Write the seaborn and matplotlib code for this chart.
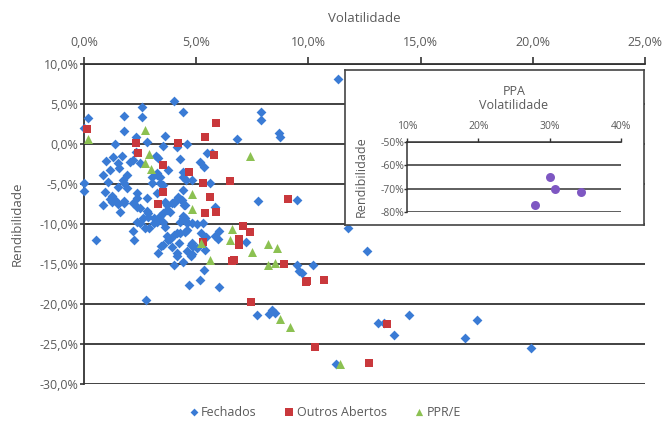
import matplotlib.pyplot as plt
import pandas as pd
import seaborn as sns
from matplotlib.ticker import FuncFormatter, MultipleLocator

# Volatilidade / Rendibilidade (%)
fechados_vol = [
    11.3, 4.0, 2.6, 0.2, 1.8, 2.6, 4.4, 7.9, 7.9, 0.0, 1.8, 8.7, 8.75, 3.6, 2.3, 6.8,
    1.4, 2.8, 4.6, 3.5, 4.15, 2.3, 1.0, 1.3, 1.7, 1.5, 2.05, 2.2, 2.5, 3.2, 3.3, 4.3,
    5.15, 5.35, 5.5, 5.7, 0.85, 1.15, 1.55, 1.05, 1.8, 1.9, 1.5, 3.05, 3.25, 3.75, 3.05,
    3.4, 4.4, 4.55, 4.8, 5.6, 0.0, 0.0, 0.95, 1.25, 1.4, 1.8, 2.35, 2.35, 2.8, 3.25,
    3.6, 4.0, 4.2, 4.4, 4.35, 4.5, 5.85, 0.85, 1.6, 2.5, 2.85, 3.5, 7.75, 9.5, 4.5,
    1.25, 1.5, 2.2, 2.35, 2.35, 2.5, 2.65, 2.8, 2.85, 3.1, 3.1, 3.4, 3.5, 3.6, 3.7,
    3.9, 3.85, 4.4, 4.5, 4.6, 4.3, 4.4, 4.45, 4.3, 4.5, 3.7, 3.85, 4.0, 5.05, 5.3,
    5.95, 6.0, 5.85, 7.2, 5.4, 5.35, 6.0, 11.75, 12.6, 9.5, 9.6, 9.7, 10.2, 7.7, 8.25,
    8.4, 8.5, 11.25, 13.1, 13.35, 14.5, 13.8, 17.5, 17.0, 19.9, 0.55, 2.75, 4.7, 5.15,
    4.0, 4.4, 3.3, 4.8, 4.15, 3.45, 3.9, 4.25, 4.8, 2.25, 2.2, 5.2, 5.45, 3.25, 3.7,
    3.75, 4.15, 4.6, 3.5, 4.75, 1.75, 1.9, 3.4, 3.5, 4.4, 3.25, 1.15, 1.8, 2.7, 2.9,
    4.8, 4.85, 5.05, 4.6, 4.15, 4.75, 4.05, 4.3,
]
fechados_rend = [
    8.1, 5.4, 4.6, 3.3, 3.5, 3.4, 4.0, 4.0, 3.0, 2.0, 1.6, 1.4, 0.9, 1.0, 0.9, 0.6,
    0.0, 0.25, 0.0, -0.25, -0.4, -1.0, -2.1, -1.6, -1.5, -2.4, -2.25, -2.0, -2.4, -1.5,
    -1.75, -1.9, -2.25, -2.9, -1.1, -1.1, -3.9, -3.25, -3.0, -4.75, -4.9, -5.5, -5.4,
    -4.1, -3.9, -3.25, -4.9, -4.9, -4.1, -4.5, -4.5, -4.9, -4.9, -5.9, -6.0, -6.5, -7.0,
    -7.4, -6.1, -6.75, -6.75, -6.1, -7.25, -7.4, -6.6, -5.75, -7.0, -7.6, -7.9, -7.6,
    -8.5, -8.0, -8.6, -8.6, -7.1, -7.0, -9.25, -7.25, -7.5, -7.4, -7.9, -9.75, -9.9,
    -9.25, -8.4, -9.1, -9.25, -9.9, -9.0, -9.75, -10.4, -7.6, -7.4, -8.5, -9.0, -9.5,
    -9.9, -9.75, -9.25, -7.6, -11.1, -11.0, -11.5, -11.9, -11.4, -10.0, -9.9, -11.9,
    -10.9, -11.5, -12.25, -13.25, -15.75, -17.9, -10.5, -13.4, -15.1, -15.9, -16.1,
    -15.1, -21.4, -21.25, -20.75, -21.1, -27.5, -22.4, -22.4, -21.4, -23.9, -22.0,
    -24.25, -25.5, -12.0, -19.5, -17.6, -17.0, -15.1, -14.75, -13.6, -13.75, -13.6,
    -12.75, -12.9, -12.4, -12.4, -12.0, -10.9, -11.1, -11.6, -9.75, -8.25, -12.0, -11.1,
    -10.75, -12.6, -12.6, -4.5, -3.9, -4.1, -5.1, -3.5, -3.6, -6.9, -7.1, -10.5, -10.5,
    -9.9, -12.75, -13.0, -13.4, -14.0, -14.0, -7.1, -6.9,
]
outros_vol = [
    0.15, 5.9, 5.4, 2.3, 4.2, 2.4, 5.8, 3.5, 4.7, 5.3, 6.5, 3.5, 5.6, 3.3, 9.1, 5.4,
    5.9, 7.1, 7.4, 6.9, 6.9, 5.3, 6.6, 6.7, 8.9, 9.9, 9.95, 10.7, 7.45, 10.3, 13.5, 12.7,
]
outros_rend = [
    1.9, 2.6, 0.9, 0.1, 0.1, -1.1, -1.4, -2.6, -3.5, -4.9, -4.6, -6.0, -6.6, -7.5, -6.9,
    -8.6, -8.5, -10.3, -11.0, -11.9, -12.6, -12.2, -14.6, -14.5, -15.0, -17.3, -17.1,
    -17.0, -19.75, -25.4, -22.5, -27.4,
]
ppr_vol = [
    0.2, 2.7, 2.9, 2.7, 3.0, 7.4, 4.8, 4.8, 6.6, 6.5, 5.2, 5.6, 7.5, 8.2, 8.6, 8.2,
    8.5, 8.75, 9.2, 11.4,
]
ppr_rend = [
    0.6, 1.75, -1.3, -2.4, -3.1, -1.5, -6.3, -8.1, -10.6, -12.0, -12.4, -14.5, -13.5,
    -12.5, -13.0, -15.1, -14.9, -21.9, -22.9, -27.5,
]
ppa_vol = [30.0, 30.8, 34.4, 28.0]
ppa_rend = [-65.0, -70.1, -71.4, -77.0]

grupos = ["Fechados", "Outros Abertos", "PPR/E"]
cores = {"Fechados": "#3a7bd5", "Outros Abertos": "#c9383c", "PPR/E": "#8cc152"}
marcadores = {"Fechados": "D", "Outros Abertos": "s", "PPR/E": "^"}
tamanhos = {"Fechados": 25, "Outros Abertos": 40, "PPR/E": 42}

df = pd.concat(
    [
        pd.DataFrame({"vol": fechados_vol, "rend": fechados_rend, "grupo": "Fechados"}),
        pd.DataFrame({"vol": outros_vol, "rend": outros_rend, "grupo": "Outros Abertos"}),
        pd.DataFrame({"vol": ppr_vol, "rend": ppr_rend, "grupo": "PPR/E"}),
    ],
    ignore_index=True,
)
df_ppa = pd.DataFrame({"vol": ppa_vol, "rend": ppa_rend})

sns.set_theme(style="white")
plt.rcParams["font.family"] = ["Open Sans", "DejaVu Sans"]
texto = "#5a5a5a"
linha = "#333333"

fig = plt.figure(figsize=(6.67, 4.24), dpi=100)
W, H = 667, 424
ax = fig.add_axes([84 / W, 1 - 384 / H, 561 / W, 320 / H])
ax.set_zorder(1)

for g in grupos:
    sub = df[df["grupo"] == g]
    sns.scatterplot(
        data=sub, x="vol", y="rend", ax=ax, color=cores[g], marker=marcadores[g],
        s=tamanhos[g], linewidth=0, label=g, zorder=3, clip_on=False,
    )

pct1 = FuncFormatter(lambda v, _: f"{v:.1f}%".replace(".", ","))
ax.set_xlim(0, 25)
ax.set_ylim(-30, 10)
ax.xaxis.set_major_locator(MultipleLocator(5))
ax.yaxis.set_major_locator(MultipleLocator(5))
ax.xaxis.set_major_formatter(pct1)
ax.yaxis.set_major_formatter(pct1)
ax.xaxis.tick_top()
ax.xaxis.set_label_position("top")
ax.tick_params(axis="x", direction="out", length=5, width=1.2, color=linha,
               labelsize=9, labelcolor=texto, pad=6, top=True, bottom=False)
ax.tick_params(axis="y", direction="out", length=3, width=1.2, color=linha,
               labelsize=9, labelcolor=texto, pad=1, left=True)
ax.set_xlabel("Volatilidade", fontsize=9.5, color=texto, labelpad=10)
ax.set_ylabel("Rendibilidade", fontsize=9.5, color=texto, labelpad=11)
ax.grid(axis="y", color=linha, linewidth=1.3)
ax.grid(axis="x", visible=False)
for lado in ["right", "bottom"]:
    ax.spines[lado].set_visible(False)
for lado in ["left", "top"]:
    ax.spines[lado].set_color(linha)
    ax.spines[lado].set_linewidth(1.3)

handles, labels = ax.get_legend_handles_labels()
ax.get_legend().remove()
fig.legend(handles, labels, loc="center", bbox_to_anchor=(325 / W, 12 / H), ncol=3,
           frameon=False, fontsize=9, labelcolor=texto, handletextpad=0.2,
           columnspacing=2.2, handlelength=0.8, markerscale=0.8)

# caixa do gráfico PPA
caixa = fig.add_axes([345 / W, 1 - 225 / H, 299 / W, 155 / H])
caixa.set_zorder(2)
caixa.set_facecolor("white")
caixa.set_xticks([])
caixa.set_yticks([])
for sp in caixa.spines.values():
    sp.set_color("#444444")
    sp.set_linewidth(1.2)

ins = fig.add_axes([407 / W, 1 - 212 / H, 214 / W, 70 / H])
ins.set_zorder(3)
ins.patch.set_alpha(0)
sns.scatterplot(data=df_ppa, x="vol", y="rend", ax=ins, color="#7e57c2", s=42,
                linewidth=0, zorder=3, clip_on=False)
pct0 = FuncFormatter(lambda v, _: f"{v:.0f}%")
ins.set_xlim(10, 40)
ins.set_ylim(-80, -50)
ins.xaxis.set_major_locator(MultipleLocator(10))
ins.yaxis.set_major_locator(MultipleLocator(10))
ins.xaxis.set_major_formatter(pct0)
ins.yaxis.set_major_formatter(pct0)
ins.xaxis.tick_top()
ins.xaxis.set_label_position("top")
ins.tick_params(axis="x", direction="out", length=3, width=1, color=linha,
                labelsize=7.5, labelcolor=texto, pad=4, top=True, bottom=False)
ins.tick_params(axis="y", direction="out", length=2, width=1, color=linha,
                labelsize=7.5, labelcolor=texto, pad=0, left=True)
ins.set_xlabel("PPA\nVolatilidade", fontsize=9, color=texto, labelpad=9, linespacing=1.1)
ins.set_ylabel("Rendibilidade", fontsize=9, color=texto, labelpad=9)
ins.grid(axis="y", color=linha, linewidth=1.1)
ins.grid(axis="x", visible=False)
for lado in ["right", "bottom"]:
    ins.spines[lado].set_visible(False)
for lado in ["left", "top"]:
    ins.spines[lado].set_color(linha)
    ins.spines[lado].set_linewidth(1.1)

fig.savefig("out.png", dpi=100, facecolor="white")
